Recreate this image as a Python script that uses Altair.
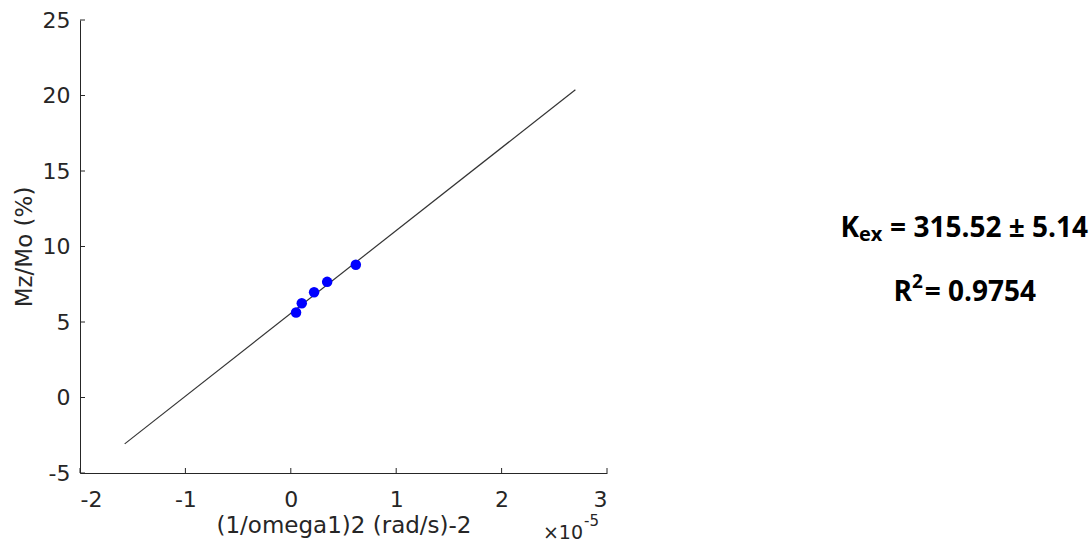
import altair as alt
import pandas as pd

# data (x in units of 1e-5 (rad/s)^-2)
pts_x = [0.050, 0.104, 0.221, 0.345, 0.617]
pts_y = [5.63, 6.24, 6.97, 7.66, 8.79]
fit_x = [-1.576, 2.70]
fit_y = [-3.07, 20.38]
x_ticks = [-2, -1, 0, 1, 2, 3]
y_ticks = [-5, 0, 5, 10, 15, 20, 25]

W, H = 527, 453
GRAY = "#262626"
FONT = "DejaVu Sans"
BFONT = "Open Sans"

pts = pd.DataFrame({"x": pts_x, "y": pts_y})
fit = pd.DataFrame({"x": fit_x, "y": fit_y})
xt = pd.DataFrame({"v": x_ticks})
yt = pd.DataFrame({"v": y_ticks})

xs = alt.Scale(domain=[-2, 3], nice=False, zero=False)
ys = alt.Scale(domain=[-5, 25], nice=False, zero=False)

xaxis = alt.Axis(values=x_ticks, tickSize=0, labelFont=FONT, labelFontSize=22,
                 labelExpr="'' + datum.value",
                 labelColor=GRAY, domainColor=GRAY, grid=False, labelPadding=16,
                 title="(1/omega1)2 (rad/s)-2", titleFont=FONT, titleFontSize=23,
                 titleFontWeight="normal", titleColor=GRAY, titlePadding=4)
yaxis = alt.Axis(values=y_ticks, tickSize=0, labelFont=FONT, labelFontSize=22,
                 labelExpr="'' + datum.value",
                 labelColor=GRAY, domainColor=GRAY, grid=False, labelPadding=10,
                 title="Mz/Mo (%)", titleFont=FONT, titleFontSize=23,
                 titleFontWeight="normal", titleColor=GRAY, titlePadding=6)

line = alt.Chart(fit).mark_line(color="#333333", strokeWidth=1.2).encode(
    x=alt.X("x:Q", scale=xs, axis=xaxis),
    y=alt.Y("y:Q", scale=ys, axis=yaxis),
)
points = alt.Chart(pts).mark_circle(color="#0000FF", opacity=1, size=110).encode(
    x=alt.X("x:Q", scale=xs), y=alt.Y("y:Q", scale=ys)
)
xtick = alt.Chart(xt).mark_rule(color=GRAY, strokeWidth=1).encode(
    x=alt.X("v:Q", scale=xs), y=alt.value(H), y2=alt.value(H - 5)
)
ytick = alt.Chart(yt).mark_rule(color=GRAY, strokeWidth=1).encode(
    y=alt.Y("v:Q", scale=ys), x=alt.value(0), x2=alt.value(5)
)

def txt(s, x, y, size, align="left", weight="normal", font=FONT, color=GRAY):
    return alt.Chart(pd.DataFrame({"t": [s]})).mark_text(
        align=align, baseline="alphabetic", fontSize=size, fontWeight=weight,
        font=font, color=color
    ).encode(text="t:N", x=alt.value(x), y=alt.value(y))

OX, OY = 80, 20
BLK = "#000000"
ann = [
    txt("\u00d710", 583 - OX, 539 - OY, 19, align="right"),
    txt("-5", 584 - OX, 526 - OY, 15),
    txt("K", 859 - OX, 237 - OY, 28, align="right", weight="bold", font=BFONT, color=BLK),
    txt("ex", 859 - OX, 241 - OY, 20, weight="bold", font=BFONT, color=BLK),
    txt("= 315.52 \u00b1 5.14", 1088 - OX, 237 - OY, 28, align="right", weight="bold", font=BFONT, color=BLK),
    txt("R", 912 - OX, 301 - OY, 28, align="right", weight="bold", font=BFONT, color=BLK),
    txt("2", 912 - OX, 288 - OY, 19, weight="bold", font=BFONT, color=BLK),
    txt("= 0.9754", 1036 - OX, 301 - OY, 28, align="right", weight="bold", font=BFONT, color=BLK),
]

chart = alt.layer(line, points, xtick, ytick, *ann).properties(
    width=W, height=H,
    autosize=alt.AutoSizeParams(type="none"),
    padding={"left": OX, "top": OY, "right": 1092 - OX - W, "bottom": 543 - OY - H},
    background="white",
).configure_view(stroke=None)

chart.save("out.html", embed_options={"renderer": "svg", "actions": False})
